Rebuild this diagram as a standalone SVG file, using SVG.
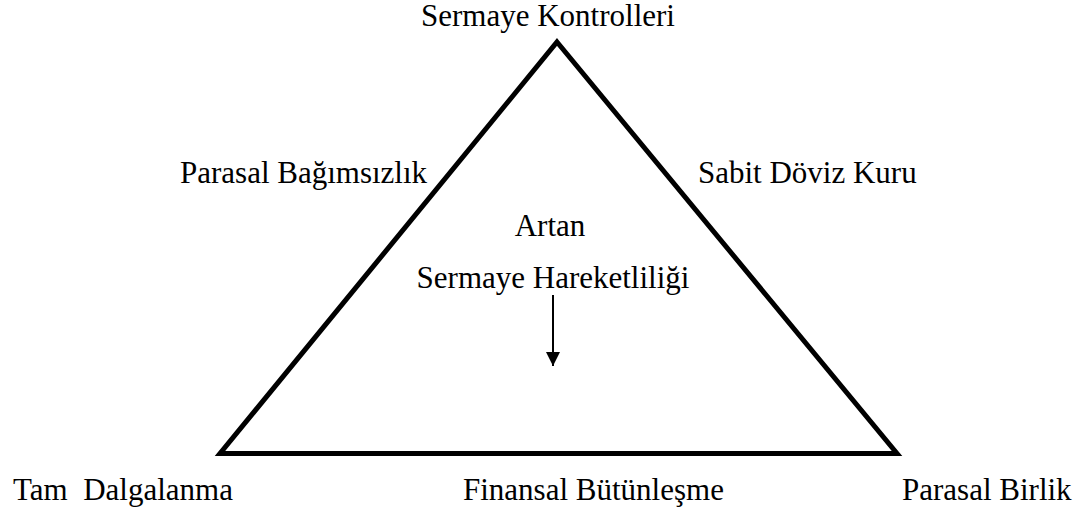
<svg xmlns="http://www.w3.org/2000/svg" width="1080" height="511" viewBox="0 0 1080 511">
<style>
.t { font-family: 'Liberation Serif', 'Times New Roman', 'DejaVu Serif', serif; font-size: 31px; fill: #000; white-space: pre; }
.edge { fill: none; stroke: #000; stroke-width: 5; stroke-linejoin: miter; stroke-miterlimit: 10; }
.arrow { stroke: #000; stroke-width: 2; fill: none; }
</style>
<defs>
<marker id="ah" viewBox="0 0 10 10" refX="10" refY="5" markerWidth="7" markerHeight="7" markerUnits="strokeWidth" orient="auto">
<path d="M0,0 L10,5 L0,10 Z" fill="#000"/>
</marker>
</defs>
<rect width="1080" height="511" fill="#fff"/>
<g id="triangle">
<polygon class="edge" points="557,42 897,453.5 220,453.5"/>
</g>
<g id="connectors">
<line class="arrow" x1="553" y1="295" x2="553" y2="366" marker-end="url(#ah)"/>
</g>
<g id="top"><text class="t" font-family="Liberation Serif, serif" x="421" y="26">Sermaye Kontrolleri</text></g>
<g id="left-side"><text class="t" font-family="Liberation Serif, serif" x="180" y="183">Parasal Bağımsızlık</text></g>
<g id="right-side"><text class="t" font-family="Liberation Serif, serif" x="698" y="183">Sabit Döviz Kuru</text></g>
<g id="center">
<text class="t" font-family="Liberation Serif, serif" x="550" y="236" text-anchor="middle">Artan</text>
<text class="t" font-family="Liberation Serif, serif" x="553" y="288" text-anchor="middle">Sermaye Hareketliliği</text>
</g>
<g id="bottom-left"><text class="t" font-family="Liberation Serif, serif" x="13" y="500">Tam  Dalgalanma</text></g>
<g id="bottom"><text class="t" font-family="Liberation Serif, serif" x="463" y="500">Finansal Bütünleşme</text></g>
<g id="bottom-right"><text class="t" font-family="Liberation Serif, serif" x="902" y="500">Parasal Birlik</text></g>
</svg>
